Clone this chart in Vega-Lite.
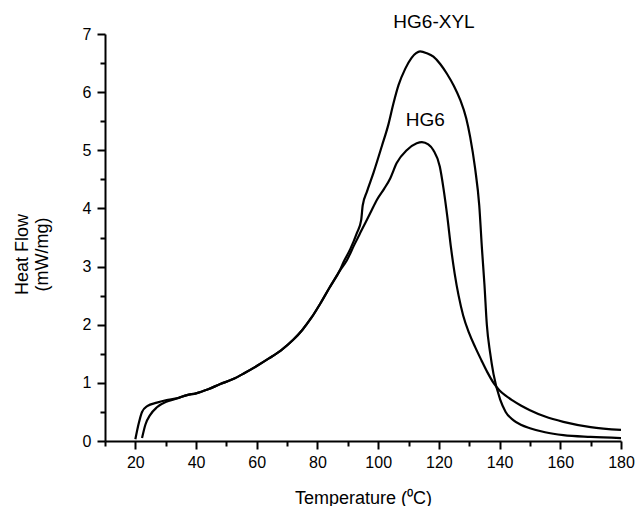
{
  "$schema": "https://vega.github.io/schema/vega-lite/v6.json",
  "autosize": "none",
  "width": 516,
  "height": 407,
  "padding": {"left": 105, "top": 34, "right": 14, "bottom": 65},
  "background": "white",
  "config": {
    "view": {"stroke": null},
    "font": "Liberation Sans",
    "axis": {
      "grid": false,
      "domainColor": "black",
      "domainWidth": 2,
      "tickColor": "black",
      "tickWidth": 2,
      "labelColor": "black",
      "titleColor": "black",
      "labelFont": "Liberation Sans",
      "titleFont": "Liberation Sans",
      "labelFontSize": 16,
      "titleFontSize": 18,
      "titleFontWeight": "normal",
      "labelOverlap": false,
      "labelFlush": false
    }
  },
  "datasets": {
    "curves": [
      {"s": "HG6-XYL", "T": 20.0, "v": 0.03},
      {"s": "HG6-XYL", "T": 21.1, "v": 0.30},
      {"s": "HG6-XYL", "T": 22.2, "v": 0.50},
      {"s": "HG6-XYL", "T": 23.9, "v": 0.60},
      {"s": "HG6-XYL", "T": 27.1, "v": 0.66},
      {"s": "HG6-XYL", "T": 30.0, "v": 0.70},
      {"s": "HG6-XYL", "T": 34.0, "v": 0.74},
      {"s": "HG6-XYL", "T": 37.0, "v": 0.79},
      {"s": "HG6-XYL", "T": 40.0, "v": 0.82},
      {"s": "HG6-XYL", "T": 44.0, "v": 0.89},
      {"s": "HG6-XYL", "T": 48.0, "v": 0.98},
      {"s": "HG6-XYL", "T": 52.0, "v": 1.06},
      {"s": "HG6-XYL", "T": 56.0, "v": 1.17},
      {"s": "HG6-XYL", "T": 60.0, "v": 1.29},
      {"s": "HG6-XYL", "T": 64.0, "v": 1.42},
      {"s": "HG6-XYL", "T": 68.0, "v": 1.56},
      {"s": "HG6-XYL", "T": 72.0, "v": 1.74},
      {"s": "HG6-XYL", "T": 75.0, "v": 1.91},
      {"s": "HG6-XYL", "T": 78.0, "v": 2.12},
      {"s": "HG6-XYL", "T": 81.0, "v": 2.37},
      {"s": "HG6-XYL", "T": 84.0, "v": 2.64},
      {"s": "HG6-XYL", "T": 87.5, "v": 2.95},
      {"s": "HG6-XYL", "T": 88.6, "v": 3.08},
      {"s": "HG6-XYL", "T": 90.8, "v": 3.30},
      {"s": "HG6-XYL", "T": 93.0, "v": 3.58},
      {"s": "HG6-XYL", "T": 94.4, "v": 3.80},
      {"s": "HG6-XYL", "T": 94.9, "v": 4.05},
      {"s": "HG6-XYL", "T": 96.3, "v": 4.29},
      {"s": "HG6-XYL", "T": 98.5, "v": 4.62},
      {"s": "HG6-XYL", "T": 101.2, "v": 5.07},
      {"s": "HG6-XYL", "T": 103.4, "v": 5.45},
      {"s": "HG6-XYL", "T": 105.0, "v": 5.80},
      {"s": "HG6-XYL", "T": 106.7, "v": 6.12},
      {"s": "HG6-XYL", "T": 108.9, "v": 6.40},
      {"s": "HG6-XYL", "T": 111.0, "v": 6.59},
      {"s": "HG6-XYL", "T": 112.5, "v": 6.67},
      {"s": "HG6-XYL", "T": 113.8, "v": 6.70},
      {"s": "HG6-XYL", "T": 116.0, "v": 6.67},
      {"s": "HG6-XYL", "T": 118.2, "v": 6.61},
      {"s": "HG6-XYL", "T": 120.5, "v": 6.48},
      {"s": "HG6-XYL", "T": 122.6, "v": 6.32},
      {"s": "HG6-XYL", "T": 125.0, "v": 6.10},
      {"s": "HG6-XYL", "T": 127.0, "v": 5.87},
      {"s": "HG6-XYL", "T": 129.0, "v": 5.55},
      {"s": "HG6-XYL", "T": 130.3, "v": 5.23},
      {"s": "HG6-XYL", "T": 131.9, "v": 4.70},
      {"s": "HG6-XYL", "T": 133.3, "v": 4.05},
      {"s": "HG6-XYL", "T": 134.2, "v": 3.30},
      {"s": "HG6-XYL", "T": 135.0, "v": 2.70},
      {"s": "HG6-XYL", "T": 135.8, "v": 2.00},
      {"s": "HG6-XYL", "T": 136.9, "v": 1.51},
      {"s": "HG6-XYL", "T": 138.0, "v": 1.15},
      {"s": "HG6-XYL", "T": 140.2, "v": 0.71},
      {"s": "HG6-XYL", "T": 142.0, "v": 0.50},
      {"s": "HG6-XYL", "T": 144.5, "v": 0.36},
      {"s": "HG6-XYL", "T": 147.0, "v": 0.28},
      {"s": "HG6-XYL", "T": 150.0, "v": 0.22},
      {"s": "HG6-XYL", "T": 155.0, "v": 0.15},
      {"s": "HG6-XYL", "T": 161.0, "v": 0.10},
      {"s": "HG6-XYL", "T": 170.0, "v": 0.07},
      {"s": "HG6-XYL", "T": 180.0, "v": 0.05},
      {"s": "HG6", "T": 22.2, "v": 0.05},
      {"s": "HG6", "T": 23.3, "v": 0.28},
      {"s": "HG6", "T": 24.9, "v": 0.45},
      {"s": "HG6", "T": 27.1, "v": 0.58},
      {"s": "HG6", "T": 30.4, "v": 0.68},
      {"s": "HG6", "T": 33.7, "v": 0.73},
      {"s": "HG6", "T": 37.0, "v": 0.79},
      {"s": "HG6", "T": 40.0, "v": 0.82},
      {"s": "HG6", "T": 44.0, "v": 0.89},
      {"s": "HG6", "T": 48.0, "v": 0.98},
      {"s": "HG6", "T": 52.0, "v": 1.06},
      {"s": "HG6", "T": 56.0, "v": 1.17},
      {"s": "HG6", "T": 60.0, "v": 1.29},
      {"s": "HG6", "T": 64.0, "v": 1.42},
      {"s": "HG6", "T": 68.0, "v": 1.56},
      {"s": "HG6", "T": 72.0, "v": 1.74},
      {"s": "HG6", "T": 75.0, "v": 1.91},
      {"s": "HG6", "T": 78.0, "v": 2.12},
      {"s": "HG6", "T": 81.0, "v": 2.37},
      {"s": "HG6", "T": 84.0, "v": 2.64},
      {"s": "HG6", "T": 87.5, "v": 2.94},
      {"s": "HG6", "T": 89.7, "v": 3.11},
      {"s": "HG6", "T": 92.0, "v": 3.36},
      {"s": "HG6", "T": 94.1, "v": 3.58},
      {"s": "HG6", "T": 97.4, "v": 3.92},
      {"s": "HG6", "T": 99.6, "v": 4.15},
      {"s": "HG6", "T": 102.0, "v": 4.34},
      {"s": "HG6", "T": 104.0, "v": 4.52},
      {"s": "HG6", "T": 106.1, "v": 4.78},
      {"s": "HG6", "T": 109.4, "v": 5.00},
      {"s": "HG6", "T": 112.7, "v": 5.12},
      {"s": "HG6", "T": 114.4, "v": 5.14},
      {"s": "HG6", "T": 116.5, "v": 5.10},
      {"s": "HG6", "T": 118.2, "v": 5.00},
      {"s": "HG6", "T": 120.3, "v": 4.72},
      {"s": "HG6", "T": 121.5, "v": 4.35},
      {"s": "HG6", "T": 122.8, "v": 3.85},
      {"s": "HG6", "T": 124.0, "v": 3.32},
      {"s": "HG6", "T": 125.2, "v": 2.88},
      {"s": "HG6", "T": 126.5, "v": 2.50},
      {"s": "HG6", "T": 128.0, "v": 2.16},
      {"s": "HG6", "T": 130.0, "v": 1.85},
      {"s": "HG6", "T": 132.0, "v": 1.61},
      {"s": "HG6", "T": 134.0, "v": 1.39},
      {"s": "HG6", "T": 136.0, "v": 1.18},
      {"s": "HG6", "T": 138.0, "v": 1.00},
      {"s": "HG6", "T": 140.0, "v": 0.87},
      {"s": "HG6", "T": 142.0, "v": 0.78},
      {"s": "HG6", "T": 144.5, "v": 0.69},
      {"s": "HG6", "T": 147.0, "v": 0.61},
      {"s": "HG6", "T": 150.0, "v": 0.53},
      {"s": "HG6", "T": 155.0, "v": 0.42},
      {"s": "HG6", "T": 161.0, "v": 0.33},
      {"s": "HG6", "T": 170.0, "v": 0.24},
      {"s": "HG6", "T": 180.0, "v": 0.19}
    ],
    "labels": [
      {"text": "HG6-XYL", "T": 118.4, "v": 7.21},
      {"text": "HG6", "T": 115.5, "v": 5.52}
    ]
  },
  "resolve": {"axis": {"x": "independent", "y": "independent"}},
  "layer": [
    {
      "data": {"name": "curves"},
      "mark": {"type": "line", "color": "black", "strokeWidth": 2.2, "interpolate": "monotone", "clip": true},
      "encoding": {
        "x": {
          "field": "T", "type": "quantitative",
          "scale": {"domain": [10, 180], "nice": false, "zero": false},
          "axis": {
            "orient": "bottom",
            "title": "Temperature (⁰C)",
            "values": [20, 40, 60, 80, 100, 120, 140, 160, 180],
            "format": "d",
            "tickSize": 8,
            "labelPadding": 5,
            "titleY": 62,
            "titleBaseline": "alphabetic"
          }
        },
        "y": {
          "field": "v", "type": "quantitative",
          "scale": {"domain": [0, 7], "nice": false},
          "axis": {
            "orient": "left",
            "title": ["Heat Flow", "(mW/mg)"],
            "values": [0, 1, 2, 3, 4, 5, 6, 7],
            "format": "d",
            "tickSize": 8,
            "labelPadding": 6,
            "titleX": -74,
            "titleY": 220
          }
        },
        "detail": {"field": "s"}
      }
    },
    {
      "data": {"name": "labels"},
      "mark": {"type": "text", "color": "black", "fontSize": 19, "font": "Liberation Sans", "align": "center", "baseline": "middle"},
      "encoding": {
        "x": {
          "field": "T", "type": "quantitative",
          "axis": {
            "orient": "bottom",
            "title": null,
            "values": [10, 30, 50, 70, 90, 110, 130, 150, 170],
            "labels": false,
            "domain": false,
            "tickSize": 5
          }
        },
        "y": {
          "field": "v", "type": "quantitative",
          "axis": {
            "orient": "left",
            "title": null,
            "values": [0.5, 1.5, 2.5, 3.5, 4.5, 5.5, 6.5],
            "labels": false,
            "domain": false,
            "tickSize": 5
          }
        },
        "text": {"field": "text"}
      }
    }
  ]
}
